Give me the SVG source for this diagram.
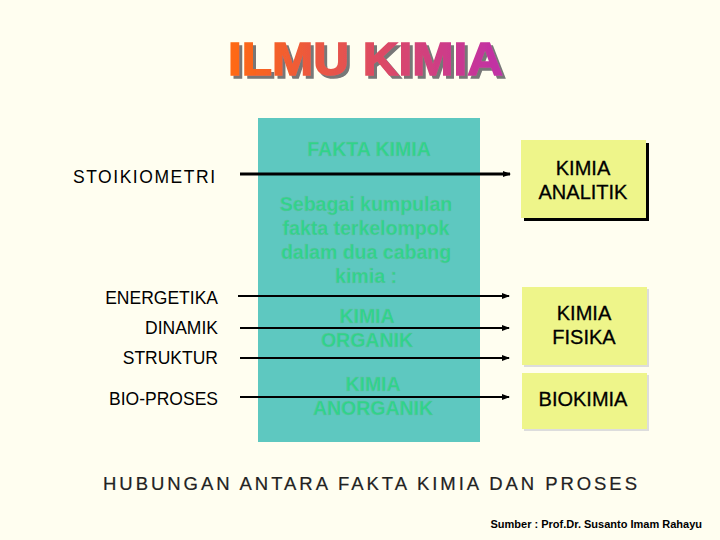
<svg xmlns="http://www.w3.org/2000/svg" width="720" height="540" viewBox="0 0 720 540">
<defs>
<linearGradient id="tg" x1="0" x2="1" y1="0" y2="0"><stop offset="0" stop-color="#ff6a10"/><stop offset="1" stop-color="#c030a8"/></linearGradient>
<filter id="sh" x="-5%" y="-20%" width="115%" height="150%"><feDropShadow dx="3" dy="3" stdDeviation="0.5" flood-color="#777"/></filter>
<marker id="ah" markerWidth="8" markerHeight="6" refX="7" refY="3" orient="auto" markerUnits="userSpaceOnUse"><path d="M0,0 L8,3 L0,6 Z" fill="#000"/></marker>
<style>
.l{font-family:"Liberation Sans",Arial,sans-serif;font-size:17.5px;fill:#000;text-anchor:end}
.t{font-family:"Liberation Sans",Arial,sans-serif;font-weight:bold;font-size:19.5px;fill:#2fd48a;text-anchor:middle;stroke:#6fb8a8;stroke-width:0.3}
.b{font-family:"Liberation Sans",Arial,sans-serif;font-size:20px;fill:#000;text-anchor:middle;stroke:#000;stroke-width:0.3}
.box{fill:#eef58a}
.c line{stroke:#000;stroke-width:2;marker-end:url(#ah)}
</style>
</defs>
<rect width="720" height="540" fill="#fffef0"/>
<g id="title" font-family="Liberation Sans,Arial,sans-serif" font-weight="900" font-size="46" filter="url(#sh)">
<text x="228" y="75" textLength="275" lengthAdjust="spacingAndGlyphs" fill="url(#tg)" stroke="url(#tg)" stroke-width="1.5">ILMU KIMIA</text>
</g>
<g id="fakta">
<rect x="258" y="118" width="222" height="324" fill="#5ec8c0"/>
<text class="t" x="369" y="156">FAKTA KIMIA</text>
<text class="t" x="366" y="211">Sebagai kumpulan</text>
<text class="t" x="366" y="235">fakta terkelompok</text>
<text class="t" x="366" y="259">dalam dua cabang</text>
<text class="t" x="366" y="283">kimia :</text>
<text class="t" x="367" y="323">KIMIA</text>
<text class="t" x="367" y="347">ORGANIK</text>
<text class="t" x="373" y="391">KIMIA</text>
<text class="t" x="373" y="415">ANORGANIK</text>
</g>
<g id="analitik">
<rect x="524" y="143" width="125" height="78" fill="#000"/>
<rect class="box" x="521" y="140" width="125" height="78"/>
<text class="b" x="583" y="175">KIMIA</text><text class="b" x="583" y="199">ANALITIK</text>
</g>
<g id="fisika">
<rect x="524" y="289" width="125" height="78" fill="#ddd"/>
<rect class="box" x="522" y="287" width="125" height="78"/>
<text class="b" x="584" y="320">KIMIA</text><text class="b" x="584" y="344">FISIKA</text>
</g>
<g id="biokimia">
<rect x="524" y="375" width="125" height="56" fill="#ddd"/>
<rect class="box" x="522" y="373" width="125" height="56"/>
<text class="b" x="583" y="406">BIOKIMIA</text>
</g>
<g id="labels">
<text class="l" x="215" y="183" textLength="142">STOIKIOMETRI</text>
<text class="l" x="218" y="304">ENERGETIKA</text>
<text class="l" x="218" y="334">DINAMIK</text>
<text class="l" x="218" y="364">STRUKTUR</text>
<text class="l" x="218" y="405">BIO-PROSES</text>
</g>
<g class="c" id="connectors">
<line x1="240" y1="174" x2="510" y2="174" style="stroke-width:3"/>
<line x1="238" y1="296" x2="509" y2="296"/>
<line x1="240" y1="328" x2="509" y2="328"/>
<line x1="240" y1="358" x2="509" y2="358"/>
<line x1="240" y1="397" x2="509" y2="397"/>
</g>
<text x="103" y="490" textLength="534" font-family="Liberation Sans,Arial,sans-serif" font-size="18.5" fill="#222" stroke="#222" stroke-width="0.2">HUBUNGAN ANTARA FAKTA KIMIA DAN PROSES</text>
<text x="702" y="528" font-family="Liberation Sans,Arial,sans-serif" font-size="11" font-weight="bold" text-anchor="end">Sumber : Prof.Dr. Susanto Imam Rahayu</text>
</svg>
